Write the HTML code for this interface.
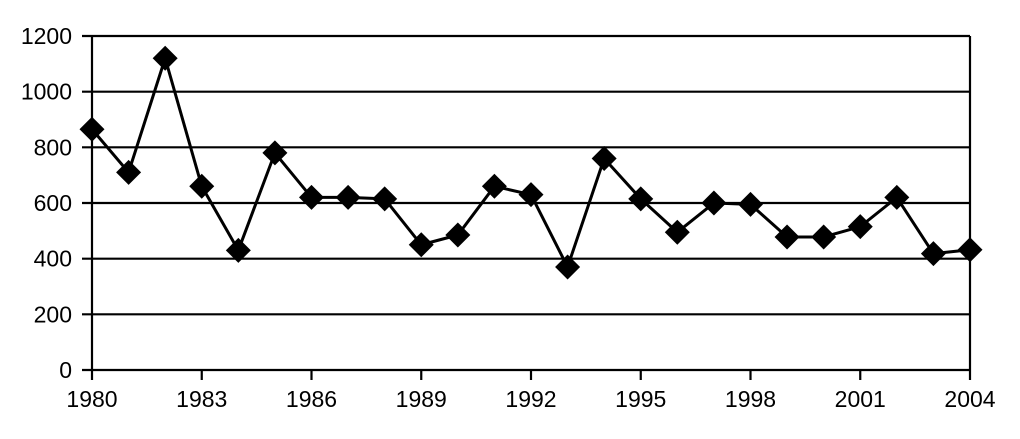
<!DOCTYPE html>
<html><head><meta charset="utf-8"><style>
html,body{margin:0;padding:0;background:#fff;}
svg{display:block;}
text{font-family:"Liberation Sans",Arial,sans-serif;font-size:23px;fill:#000;}
</style></head><body>
<svg id="c" width="1020" height="439" viewBox="0 0 1020 439">
<g stroke="#000" stroke-width="2.2">
<line x1="82" y1="36" x2="970" y2="36"/>
<line x1="82" y1="91.7" x2="970" y2="91.7"/>
<line x1="82" y1="147.3" x2="970" y2="147.3"/>
<line x1="82" y1="203" x2="970" y2="203"/>
<line x1="82" y1="258.7" x2="970" y2="258.7"/>
<line x1="82" y1="314.3" x2="970" y2="314.3"/>
<line x1="82" y1="370" x2="970" y2="370"/>
<line x1="92" y1="36" x2="92" y2="380"/>
<line x1="970" y1="36" x2="970" y2="380"/>
<line x1="201.75" y1="370" x2="201.75" y2="380"/>
<line x1="311.5" y1="370" x2="311.5" y2="380"/>
<line x1="421.25" y1="370" x2="421.25" y2="380"/>
<line x1="531" y1="370" x2="531" y2="380"/>
<line x1="640.75" y1="370" x2="640.75" y2="380"/>
<line x1="750.5" y1="370" x2="750.5" y2="380"/>
<line x1="860.25" y1="370" x2="860.25" y2="380"/>
</g>
<g text-anchor="end">
<text x="72" y="44">1200</text>
<text x="72" y="99.7">1000</text>
<text x="72" y="155.3">800</text>
<text x="72" y="211">600</text>
<text x="72" y="266.7">400</text>
<text x="72" y="322.3">200</text>
<text x="72" y="378">0</text>
</g>
<g text-anchor="middle">
<text x="92" y="407">1980</text>
<text x="201.75" y="407">1983</text>
<text x="311.5" y="407">1986</text>
<text x="421.25" y="407">1989</text>
<text x="531" y="407">1992</text>
<text x="640.75" y="407">1995</text>
<text x="750.5" y="407">1998</text>
<text x="860.25" y="407">2001</text>
<text x="970" y="407">2004</text>
</g>
<g id="s"></g>
</svg>
<script>
var d=[865,710,1120,660,430,780,620,620,615,450,485,660,630,370,760,615,495,600,595,478,478,515,620,418,432];
var g=document.getElementById('s'),ns='http://www.w3.org/2000/svg',pts=[];
d.forEach(function(v,i){pts.push([92+i*36.583,370-v*334/1200]);});
var pl=document.createElementNS(ns,'polyline');
pl.setAttribute('points',pts.map(function(p){return p.join(',')}).join(' '));
pl.setAttribute('fill','none');pl.setAttribute('stroke','#000');pl.setAttribute('stroke-width','3');
g.appendChild(pl);
pts.forEach(function(p){var r=12.5,q=document.createElementNS(ns,'polygon');
q.setAttribute('points',[p[0],p[1]-r,p[0]+r,p[1],p[0],p[1]+r,p[0]-r,p[1]].join(' ').replace(/(\S+) (\S+)/g,'$1,$2'));
q.setAttribute('fill','#000');g.appendChild(q);});
</script>
</body></html>
